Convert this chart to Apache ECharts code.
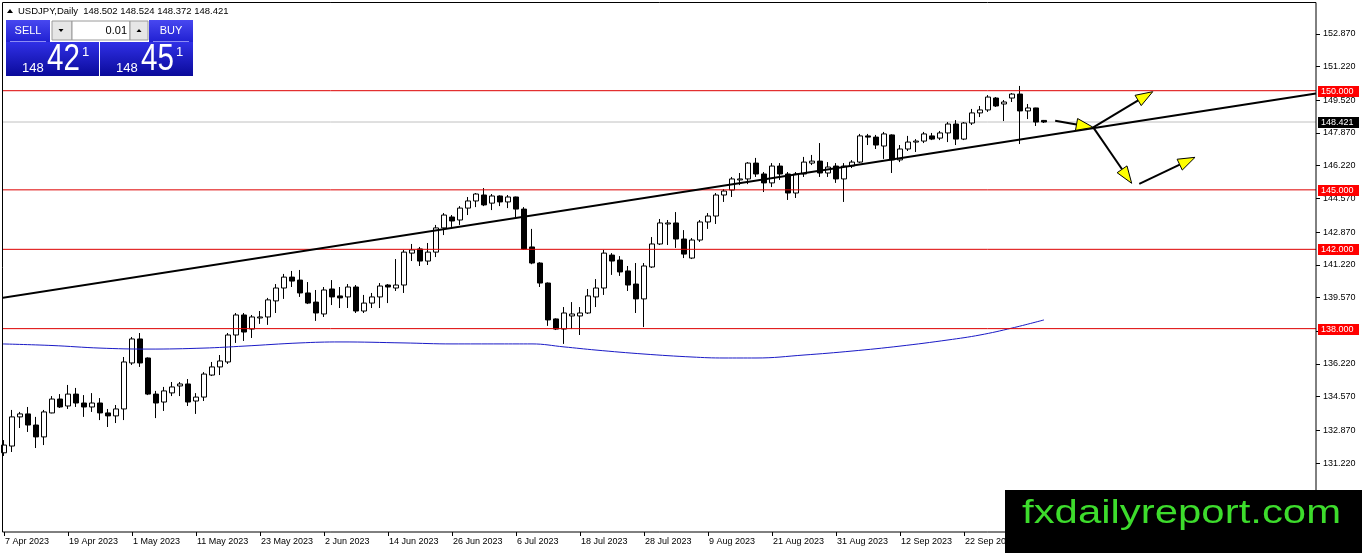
<!DOCTYPE html>
<html>
<head>
<meta charset="utf-8">
<title>USDJPY, Daily</title>
<script src="https://cdn.jsdelivr.net/npm/echarts@6/dist/echarts.min.js"></script>
<style>
  html, body { margin: 0; padding: 0; background: #fff; }
  #chart { width: 1362px; height: 553px; }
</style>
</head>
<body>
<div id="chart"></div>
<script>
// daily bars, weekdays only, starting 7 Apr 2023; the axis keeps empty room on the right
const firstDay = '2023-04-07';
const slotCount = 165;
const symbolName = 'USDJPY';
const periodName = 'Daily';

const openPrices = [
  131.74, 132.08, 133.55, 133.70, 133.14, 132.54, 133.75, 134.45, 134.10, 134.70,
  134.25, 134.05, 134.25, 133.75, 133.60, 133.95, 136.27, 137.48, 136.52, 134.70,
  134.30, 134.76, 135.11, 135.21, 134.35, 134.55, 135.66, 136.07, 136.32, 137.68,
  138.69, 137.98, 138.54, 138.59, 139.40, 140.05, 140.60, 140.45, 139.80, 139.34,
  138.74, 140.00, 139.65, 139.60, 140.10, 138.89, 139.29, 139.60, 140.20, 140.05,
  140.20, 141.81, 142.02, 141.41, 141.86, 143.08, 143.63, 143.48, 144.08, 144.44,
  144.74, 144.33, 144.69, 144.39, 144.64, 144.03, 142.12, 141.31, 140.30, 138.49,
  137.98, 138.64, 138.64, 138.79, 139.60, 140.05, 141.71, 141.46, 140.91, 140.25,
  139.50, 141.11, 142.27, 143.28, 143.33, 142.52, 141.56, 142.47, 143.38, 143.68,
  144.74, 144.99, 145.50, 145.55, 146.35, 145.80, 145.35, 146.20, 145.80, 144.84,
  145.80, 146.35, 146.45, 145.85, 146.20, 145.55, 146.20, 146.40, 147.72, 147.66,
  147.21, 147.77, 146.51, 147.06, 147.41, 147.46, 147.72, 147.61, 147.87, 148.32,
  147.56, 148.37, 148.88, 149.03, 149.63, 149.33, 149.63, 149.83, 148.98, 149.13,
  148.502
];
const highPrices = [
  132.38, 133.90, 133.80, 134.05, 133.55, 133.90, 134.60, 134.70, 135.16, 135.01,
  134.65, 134.75, 134.50, 133.95, 134.15, 136.57, 137.58, 137.78, 136.55, 134.86,
  135.06, 135.31, 135.31, 135.46, 134.75, 135.81, 136.32, 136.67, 137.78, 138.79,
  138.79, 138.69, 138.89, 139.55, 140.25, 140.76, 140.91, 140.96, 140.35, 139.95,
  140.10, 140.45, 140.10, 140.25, 140.20, 139.70, 139.80, 140.30, 140.25, 141.51,
  141.97, 142.27, 142.12, 142.32, 143.23, 143.83, 143.73, 144.18, 144.64, 144.84,
  145.09, 144.79, 144.72, 144.74, 144.66, 144.13, 143.03, 141.35, 140.33, 138.52,
  139.09, 139.34, 139.09, 140.00, 140.50, 141.97, 141.81, 141.66, 141.16, 141.31,
  141.31, 142.62, 143.53, 143.48, 143.88, 142.97, 142.57, 143.48, 143.83, 144.84,
  145.04, 145.65, 145.85, 146.40, 146.61, 145.90, 146.35, 146.35, 145.90, 145.90,
  146.66, 146.76, 147.36, 146.40, 146.35, 146.35, 146.50, 147.82, 147.82, 147.77,
  147.92, 147.80, 147.26, 147.72, 147.56, 147.92, 147.87, 147.97, 148.42, 148.52,
  148.42, 149.08, 149.23, 149.78, 149.68, 149.53, 149.88, 150.24, 149.33, 149.14,
  148.524
];
const lowPrices = [
  131.58, 131.78, 132.99, 132.79, 131.98, 132.13, 133.73, 134.00, 133.95, 134.05,
  133.55, 133.80, 133.39, 133.04, 133.24, 133.39, 136.17, 136.07, 134.65, 133.49,
  133.85, 134.60, 134.60, 134.10, 133.70, 134.35, 135.61, 135.66, 136.22, 137.28,
  137.38, 137.53, 138.24, 138.19, 138.79, 139.50, 140.10, 139.60, 139.24, 138.39,
  138.59, 139.19, 139.04, 139.04, 138.79, 138.79, 139.04, 139.04, 139.29, 139.90,
  139.80, 141.41, 141.16, 141.21, 141.61, 142.72, 143.13, 143.23, 143.73, 144.13,
  144.18, 143.98, 144.18, 144.08, 143.63, 141.98, 141.25, 140.10, 138.14, 137.93,
  137.23, 137.98, 137.68, 138.74, 139.09, 139.70, 140.71, 140.66, 139.90, 138.79,
  138.08, 141.06, 142.22, 142.22, 142.07, 141.56, 141.51, 142.37, 143.03, 143.28,
  144.39, 144.64, 145.24, 145.29, 145.65, 144.89, 145.14, 145.50, 144.49, 144.59,
  145.65, 146.25, 145.65, 145.65, 145.35, 144.39, 146.10, 146.35, 147.26, 147.06,
  146.56, 145.85, 146.40, 146.96, 146.91, 147.36, 147.51, 147.51, 147.41, 147.26,
  147.51, 148.27, 148.67, 148.93, 149.18, 148.47, 149.43, 147.31, 148.57, 148.22,
  148.372
];
const closePrices = [
  132.13, 133.55, 133.70, 133.14, 132.54, 133.80, 134.45, 134.05, 134.70, 134.25,
  134.05, 134.25, 133.75, 133.60, 133.95, 136.32, 137.48, 136.27, 134.70, 134.25,
  134.86, 135.06, 135.21, 134.30, 134.55, 135.71, 136.07, 136.37, 137.68, 138.69,
  137.83, 138.59, 138.59, 139.45, 140.05, 140.60, 140.40, 139.80, 139.29, 138.79,
  139.95, 139.60, 139.55, 140.10, 138.89, 139.29, 139.60, 140.15, 140.10, 140.20,
  141.86, 141.97, 141.41, 141.86, 143.08, 143.73, 143.43, 144.08, 144.44, 144.79,
  144.24, 144.69, 144.39, 144.64, 144.03, 142.02, 141.31, 140.30, 138.44, 137.98,
  138.79, 138.74, 138.79, 139.65, 140.05, 141.81, 141.41, 140.86, 140.20, 139.50,
  141.16, 142.27, 143.33, 143.33, 142.52, 141.76, 142.47, 143.38, 143.68, 144.74,
  144.94, 145.55, 145.55, 146.35, 145.80, 145.35, 146.20, 145.80, 144.84, 145.80,
  146.40, 146.45, 145.85, 146.15, 145.55, 146.20, 146.40, 147.72, 147.66, 147.26,
  147.82, 146.51, 147.06, 147.41, 147.46, 147.82, 147.56, 147.87, 148.32, 147.56,
  148.37, 148.88, 149.03, 149.68, 149.23, 149.43, 149.83, 148.98, 149.13, 148.42,
  148.421
];

// moving average (blue), read at a few bars
const maIndex = [-0.25, 6, 12, 18, 25, 30, 37, 42, 50, 56, 62, 66, 70, 74, 80, 86, 90, 94, 100, 106, 112, 118, 122, 126, 130];
const maValues = [137.23, 137.15, 137.02, 136.97, 137.02, 137.12, 137.28, 137.33, 137.28, 137.23, 137.23, 137.23, 137.08, 136.92, 136.72, 136.57, 136.52, 136.52, 136.67, 136.87, 137.12, 137.43, 137.68, 138.03, 138.44];

const levels = [150, 145, 142, 138];
const lastPrice = 148.421;
const bidPrice = 148.421;
const askPrice = 148.451;
const lotSize = '0.01';
const priceTicks = [152.87, 151.22, 149.52, 147.87, 146.22, 144.57, 142.87, 141.22, 139.57, 137.87, 136.22, 134.57, 132.87, 131.22];

// drawn objects: trend line and the yellow arrows, as [bar, price]
const trendFrom = [-0.25, 139.55];
const trendTo = [164, 149.86];
const arrowFrom = [[131.4, 148.49], [136.16, 148.15], [136.16, 148.15], [141.91, 145.30]];
const arrowTo = [[136.16, 148.15], [143.59, 149.95], [140.96, 145.33], [148.88, 146.64]];

const months = ['Jan', 'Feb', 'Mar', 'Apr', 'May', 'Jun', 'Jul', 'Aug', 'Sep', 'Oct', 'Nov', 'Dec'];
const dates = [];
const day = new Date(firstDay + 'T00:00:00Z');
while (dates.length < slotCount) {
  const wd = day.getUTCDay();
  if (wd !== 0 && wd !== 6) {
    dates.push(day.getUTCDate() + ' ' + months[day.getUTCMonth()] + ' ' + day.getUTCFullYear());
  }
  day.setUTCDate(day.getUTCDate() + 1);
}

const candles = openPrices.map((o, i) => [o, closePrices[i], lowPrices[i], highPrices[i]]);
const font = 'Liberation Sans, Arial, sans-serif';

const chart = echarts.init(document.getElementById('chart'));

const option = {
  animation: false,
  backgroundColor: '#ffffff',
  textStyle: { fontFamily: font },
  grid: { left: 4, right: 46, top: 3, bottom: 21, containLabel: false },
  xAxis: [
    {
      type: 'category',
      data: dates,
      boundaryGap: false,
      axisLine: { show: false, onZero: false },
      axisTick: { show: true, interval: 7, length: 4, lineStyle: { color: '#000' } },
      axisLabel: { interval: 7, align: 'left', margin: 5, fontSize: 9, color: '#000', padding: [0, 0, 0, 1] },
      splitLine: { show: false }
    },
    { type: 'value', min: 0, max: 164, show: false, axisLine: { onZero: false } }
  ],
  yAxis: {
    type: 'value',
    position: 'right',
    min: 127.745,
    max: 154.423,
    axisLine: { show: false, onZero: false },
    axisTick: { show: true, length: 4, customValues: priceTicks, lineStyle: { color: '#000' } },
    axisLabel: {
      customValues: priceTicks,
      margin: 7,
      fontSize: 9,
      color: '#000',
      formatter: v => v.toFixed(3)
    },
    splitLine: { show: false }
  },
  series: [
    {
      name: 'last',
      type: 'line',
      xAxisIndex: 1,
      data: [[-0.25, lastPrice], [164, lastPrice]],
      symbol: 'none',
      silent: true,
      clip: false,
      lineStyle: { color: '#c0c0c0', width: 1 },
      z: 1
    },
    {
      name: symbolName,
      type: 'candlestick',
      xAxisIndex: 0,
      data: candles,
      barWidth: 5,
      clip: false,
      itemStyle: {
        color: '#ffffff',
        color0: '#000000',
        borderColor: '#000000',
        borderColor0: '#000000',
        borderWidth: 1
      },
      z: 2
    },
    {
      name: 'MA',
      type: 'line',
      xAxisIndex: 1,
      data: maIndex.map((x, i) => [x, maValues[i]]),
      smooth: 0.4,
      symbol: 'none',
      silent: true,
      clip: false,
      lineStyle: { color: '#1a1ac6', width: 1 },
      z: 3
    },
    ...levels.map(v => ({
      name: 'level ' + v,
      type: 'line',
      xAxisIndex: 1,
      data: [[-0.25, v], [164, v]],
      symbol: 'none',
      silent: true,
      clip: false,
      lineStyle: { color: '#dd0000', width: 1 },
      z: 3
    })),
    {
      name: 'trend',
      type: 'line',
      xAxisIndex: 1,
      data: [trendFrom, trendTo],
      symbol: 'none',
      silent: true,
      clip: false,
      lineStyle: { color: '#000', width: 2 },
      z: 4
    },
    {
      name: 'arrows',
      type: 'custom',
      xAxisIndex: 1,
      data: arrowFrom.map((f, i) => [f[0], f[1], arrowTo[i][0], arrowTo[i][1]]),
      encode: { x: [0, 2], y: [1, 3] },
      silent: true,
      clip: false,
      z: 5,
      renderItem(params, api) {
        const a = api.coord([api.value(0), api.value(1)]);
        const b = api.coord([api.value(2), api.value(3)]);
        const dx = b[0] - a[0];
        const dy = b[1] - a[1];
        const len = Math.hypot(dx, dy);
        const ux = dx / len;
        const uy = dy / len;
        const bx = b[0] - ux * 17;
        const by = b[1] - uy * 17;
        return {
          type: 'group',
          children: [
            {
              type: 'line',
              shape: { x1: a[0], y1: a[1], x2: bx, y2: by },
              style: { stroke: '#000', lineWidth: 2 }
            },
            {
              type: 'polygon',
              shape: { points: [b, [bx - uy * 6, by + ux * 6], [bx + uy * 6, by - ux * 6]] },
              style: { fill: '#ffff00', stroke: '#000', lineWidth: 1 }
            }
          ]
        };
      }
    }
  ]
};

chart.setOption(option);

// overlay: frame, header, trade panel, price tags, watermark
const yPix = v => chart.convertToPixel({ yAxisIndex: 0 }, v);

function priceTag(v, bg) {
  const y = Math.round(yPix(v));
  return [
    { type: 'rect', z: 110, shape: { x: 1318, y: y - 5, width: 41, height: 11 }, style: { fill: bg } },
    {
      type: 'text', z: 111,
      style: { x: 1321, y: y + 0.5, text: v.toFixed(3), fill: '#fff', font: '9px ' + font, textVerticalAlign: 'middle' }
    }
  ];
}

function priceBox(x, price) {
  const s = price.toFixed(3);
  return [
    {
      type: 'rect', z: 120,
      shape: { x: x, y: 42, width: 93, height: 34 },
      style: {
        fill: { type: 'linear', x: 0, y: 0, x2: 0, y2: 1, colorStops: [{ offset: 0, color: '#3030e6' }, { offset: 1, color: '#0a0a9a' }] }
      }
    },
    { type: 'text', z: 121, style: { x: x + 16, y: 68, text: s.slice(0, 3), fill: '#fff', font: '13px ' + font, textVerticalAlign: 'middle' } },
    {
      type: 'text', z: 121, x: x + 41, y: 60, scaleX: 0.8,
      style: { x: 0, y: 0, text: s.slice(4, 6), fill: '#fff', font: '37px ' + font, textVerticalAlign: 'middle' }
    },
    { type: 'text', z: 121, style: { x: x + 76, y: 52, text: s.slice(6), fill: '#fff', font: '13px ' + font, textVerticalAlign: 'middle' } }
  ];
}

function tradeButton(x, label) {
  return [
    {
      type: 'rect', z: 120,
      shape: { x: x, y: 20, width: 44, height: 22 },
      style: {
        fill: { type: 'linear', x: 0, y: 0, x2: 0, y2: 1, colorStops: [{ offset: 0, color: '#4848f0' }, { offset: 1, color: '#2020d2' }] }
      }
    },
    { type: 'line', z: 121, shape: { x1: x + 4, y1: 41.5, x2: x + 40, y2: 41.5 }, style: { stroke: '#8c8cf4', lineWidth: 1 } },
    { type: 'text', z: 121, style: { x: x + 22, y: 31, text: label, fill: '#fff', font: '11px ' + font, textAlign: 'center', textVerticalAlign: 'middle' } }
  ];
}

const last = openPrices.length - 1;
const header = symbolName + ',' + periodName + '  ' +
  [openPrices[last], highPrices[last], lowPrices[last], closePrices[last]].map(v => v.toFixed(3)).join(' ');

const graphics = [
  {
    type: 'rect', z: 100,
    shape: { x: 2.5, y: 2.5, width: 1313.5, height: 529.5 },
    style: { fill: 'transparent', stroke: '#000', lineWidth: 1 }
  },
  { type: 'polygon', z: 120, shape: { points: [[7, 13], [10, 9], [13, 13]] }, style: { fill: '#000' } },
  { type: 'text', z: 120, style: { x: 18, y: 11, text: header, fill: '#000', font: '9.5px ' + font, textVerticalAlign: 'middle' } },
  ...tradeButton(6, 'SELL'),
  ...tradeButton(149, 'BUY'),
  { type: 'rect', z: 120, shape: { x: 52, y: 21, width: 20, height: 19 }, style: { fill: '#e6e6e6', stroke: '#9a9a9a' } },
  { type: 'polygon', z: 121, shape: { points: [[58.5, 29], [63.5, 29], [61, 32]] }, style: { fill: '#000' } },
  { type: 'rect', z: 120, shape: { x: 72, y: 21, width: 58, height: 19 }, style: { fill: '#fff', stroke: '#9a9a9a' } },
  { type: 'text', z: 121, style: { x: 127, y: 30.5, text: lotSize, fill: '#000', font: '11px ' + font, textAlign: 'right', textVerticalAlign: 'middle' } },
  { type: 'rect', z: 120, shape: { x: 130, y: 21, width: 18, height: 19 }, style: { fill: '#e6e6e6', stroke: '#9a9a9a' } },
  { type: 'polygon', z: 121, shape: { points: [[136.5, 32], [141.5, 32], [139, 29]] }, style: { fill: '#000' } },
  ...priceBox(6, bidPrice),
  ...priceBox(100, askPrice),
  ...levels.flatMap(v => priceTag(v, '#ff0000')),
  ...priceTag(lastPrice, '#000000'),
  { type: 'rect', z: 130, shape: { x: 1005, y: 490, width: 357, height: 63 }, style: { fill: '#000' } },
  {
    type: 'text', z: 131, x: 1022, y: 514, scaleX: 1.27,
    style: { x: 0, y: 0, text: 'fxdailyreport.com', fill: '#3ddc2c', font: '33px ' + font, textVerticalAlign: 'middle' }
  }
];

chart.setOption({ graphic: graphics });
</script>
</body>
</html>
